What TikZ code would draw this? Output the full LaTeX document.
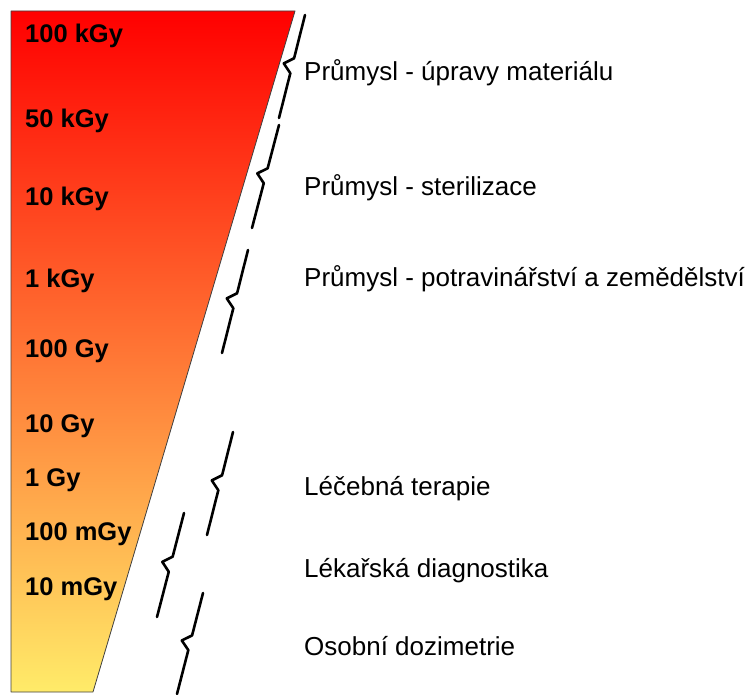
\documentclass[tikz,border=0pt]{standalone}
\usepackage{fontspec}
\setsansfont{Liberation Sans}
\usetikzlibrary{calc}
\definecolor{doseyellow}{RGB}{255,235,105}

\begin{document}
\begin{tikzpicture}[x=1pt, y=-1pt]
    \tikzstyle{dose} = [anchor=base west, inner sep=0pt, font=\sffamily\bfseries\fontsize{25.5}{30}\selectfont]
    \tikzstyle{field} = [anchor=base west, inner sep=0pt, font=\sffamily\fontsize{26}{31}\selectfont]
    \tikzstyle{kink} = [line width=2.6pt, line cap=round, line join=round]

    \useasboundingbox (0,0) rectangle (754,695);

    % dose wedge
    \shade[top color=red, bottom color=doseyellow, draw=black!75, line width=0.8pt, line join=round] (11,11) -- (295,11) -- (93,692) -- (11,692) -- cycle;

    % dose values
    \node (d1) [dose] at (25,43) {100 kGy};
    \node (d2) [dose] at (25,128) {50 kGy};
    \node (d3) [dose] at (25,205) {10 kGy};
    \node (d4) [dose] at (25,287) {1 kGy};
    \node (d5) [dose] at (25,357) {100 Gy};
    \node (d6) [dose] at (25,432) {10 Gy};
    \node (d7) [dose] at (25,486) {1 Gy};
    \node (d8) [dose] at (25,540) {100 mGy};
    \node (d9) [dose] at (25,595) {10 mGy};

    % fields of use
    \node (f1) [field] at (304,81) {Průmysl - úpravy materiálu};
    \node (f2) [field] at (304,195) {Průmysl - sterilizace};
    \node (f3) [field] at (304,286) {Průmysl - potravinářství a zemědělství};
    \node (f4) [field] at (304,495) {Léčebná terapie};
    \node (f5) [field] at (304,577) {Lékařská diagnostika};
    \node (f6) [field] at (304,655) {Osobní dozimetrie};

    % brace ends
    \coordinate (u1) at (305,15);  \coordinate (l1) at (279,118);
    \coordinate (u2) at (279,125); \coordinate (l2) at (252,228);
    \coordinate (u3) at (248,250); \coordinate (l3) at (222,353);
    \coordinate (u4) at (233,432); \coordinate (l4) at (207,535);
    \coordinate (u5) at (184,513); \coordinate (l5) at (157,617);
    \coordinate (u6) at (203,593); \coordinate (l6) at (177,694);

    \foreach \i in {1,...,6}
        \draw[kink] (u\i) -- ($(u\i)!0.42!(l\i)$) -- ($(u\i)!0.47!(l\i)+(-9,0)$) -- ($(u\i)!0.565!(l\i)$) -- (l\i);
\end{tikzpicture}
\end{document}
